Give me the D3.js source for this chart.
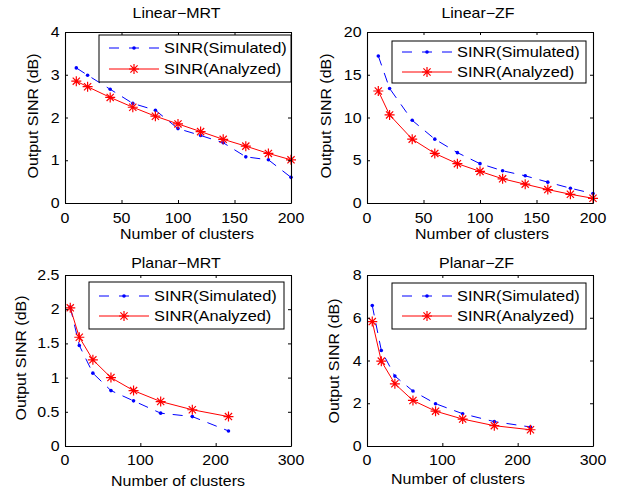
<!DOCTYPE html>
<html><head><meta charset="utf-8">
<script src="https://cdn.jsdelivr.net/npm/d3@7"></script>
<style>
html,body{margin:0;padding:0;background:#fff;}
svg{display:block;}
text{font-family:"Liberation Sans",Arial,Helvetica,sans-serif;font-size:14px;fill:#000;}
</style></head>
<body>
<svg id="chart" width="624" height="495"></svg>
<script>
// ---------- data ----------
const linearX = [10, 20, 40, 60, 80, 100, 120, 140, 160, 180, 200];
const planarX = [7, 19, 37, 61, 91, 127, 169, 217];

const linMrtSim = [3.16, 2.99, 2.66, 2.33, 2.17, 1.74, 1.58, 1.41, 1.08, 1.01, 0.60];
const linMrtAna = [2.85, 2.72, 2.47, 2.24, 2.03, 1.85, 1.67, 1.49, 1.33, 1.16, 1.01];
const linZfSim  = [17.2, 13.4, 9.67, 7.47, 5.89, 4.60, 3.77, 3.18, 2.44, 1.73, 1.10];
const linZfAna  = [13.1, 10.3, 7.47, 5.80, 4.60, 3.70, 2.83, 2.20, 1.57, 1.02, 0.55];
const plaMrtSim = [2.03, 1.47, 1.065, 0.81, 0.66, 0.48, 0.43, 0.22];
const plaMrtAna = [2.02, 1.59, 1.26, 1.00, 0.81, 0.65, 0.53, 0.43];
const plaZfSim  = [6.57, 4.47, 3.27, 2.57, 1.98, 1.51, 1.14, 0.89];
const plaZfAna  = [5.82, 3.97, 2.91, 2.13, 1.63, 1.26, 0.95, 0.76];

const titles = ["Linear\u2212MRT", "Linear\u2212ZF", "Planar\u2212MRT", "Planar\u2212ZF"];
const legendLabels = ["SINR(Simulated)", "SINR(Analyzed)"];
const xLabel = "Number of clusters";
const yLabel = "Output SINR (dB)";
const xTicksLinear = [0, 50, 100, 150, 200];
const xTicksPlanar = [0, 100, 200, 300];
const yTicksLinMrt = [0, 1, 2, 3, 4];
const yTicksLinZf  = [0, 5, 10, 15, 20];
const yTicksPlaMrt = [0, 0.5, 1, 1.5, 2, 2.5];
const yTicksPlaZf  = [0, 2, 4, 6, 8];

// ---------- panel definitions (data + layout) ----------
const panels = [
  {title: titles[0], x: linearX, sim: linMrtSim, ana: linMrtAna, xTicks: xTicksLinear, yTicks: yTicksLinMrt,
   box: {l: 65, r: 291, t: 32, b: 203}, titleX: 176.5, titleY: 18, xlabX: 187, xlabY: 239, tickY: 222.7, ylabX: 38, ylabY: 116,
   leg: {l: 99, r: 291, t: 35, b: 82, r1: 48, r2: 69}},
  {title: titles[1], x: linearX, sim: linZfSim, ana: linZfAna, xTicks: xTicksLinear, yTicks: yTicksLinZf,
   box: {l: 367, r: 593, t: 32, b: 203}, titleX: 478, titleY: 18, xlabX: 482, xlabY: 239, tickY: 222.7, ylabX: 331, ylabY: 116,
   leg: {l: 392, r: 586, t: 41, b: 83, r1: 52, r2: 72}},
  {title: titles[2], x: planarX, sim: plaMrtSim, ana: plaMrtAna, xTicks: xTicksPlanar, yTicks: yTicksPlaMrt,
   box: {l: 65, r: 291, t: 275, b: 446}, titleX: 176, titleY: 268, xlabX: 178, xlabY: 486, tickY: 464.5, ylabX: 26, ylabY: 358,
   leg: {l: 89, r: 284, t: 282, b: 329, r1: 296, r2: 316}},
  {title: titles[3], x: planarX, sim: plaZfSim, ana: plaZfAna, xTicks: xTicksPlanar, yTicks: yTicksPlaZf,
   box: {l: 367, r: 593, t: 275, b: 446}, titleX: 476.5, titleY: 268, xlabX: 458, xlabY: 484, tickY: 464.5, ylabX: 339, ylabY: 361,
   leg: {l: 392, r: 586, t: 283, b: 329, r1: 296, r2: 316}}
];

const SX = 1.14;      // horizontal text stretch of the reference
const SXL = 1.17;     // legend text stretch
const BLUE = "#0000ff", RED = "#ff0000";
const svg = d3.select("#chart");

function txt(g, x, y, s, anchor, rot, sx) {
  return g.append("text")
    .attr("transform", `translate(${x},${y})${rot ? ` rotate(${rot})` : ""} scale(${sx || SX},1)`)
    .attr("text-anchor", anchor)
    .text(s);
}

function star(g, cx, cy, r) {
  const d = r * 0.72;
  const p = `M${cx - r},${cy}L${cx + r},${cy}M${cx},${cy - r}L${cx},${cy + r}` +
            `M${cx - d},${cy - d}L${cx + d},${cy + d}M${cx - d},${cy + d}L${cx + d},${cy - d}`;
  g.append("path").attr("d", p).attr("stroke", RED).attr("stroke-width", 1.2).attr("fill", "none");
}

const fmt = v => String(v);

panels.forEach(p => {
  const g = svg.append("g");
  const B = p.box;
  const xDom = [p.xTicks[0], p.xTicks[p.xTicks.length - 1]];
  const yDom = [p.yTicks[0], p.yTicks[p.yTicks.length - 1]];
  const x = d3.scaleLinear().domain(xDom).range([B.l, B.r]);
  const y = d3.scaleLinear().domain(yDom).range([B.b, B.t]);

  g.append("rect").attr("x", B.l).attr("y", B.t).attr("width", B.r - B.l).attr("height", B.b - B.t).attr("fill", "#fff");

  const pts = (arr) => arr.map((v, i) => [x(p.x[i]), y(v)]);
  const line = d3.line();

  // simulated: blue dashed with dots
  g.append("path").attr("d", line(pts(p.sim))).attr("fill", "none")
    .attr("stroke", BLUE).attr("stroke-width", 1).attr("stroke-dasharray", "10,8");
  g.selectAll(null).data(pts(p.sim)).join("circle")
    .attr("cx", d => d[0]).attr("cy", d => d[1]).attr("r", 1.8).attr("fill", BLUE);

  // analyzed: red solid with asterisks
  g.append("path").attr("d", line(pts(p.ana))).attr("fill", "none")
    .attr("stroke", RED).attr("stroke-width", 1);
  pts(p.ana).forEach(d => star(g, d[0], d[1], 5));

  // axes (ticks inward, full box)
  const ax = g.append("g").attr("transform", `translate(0,${B.b})`)
    .call(d3.axisBottom(x).tickValues(p.xTicks).tickSizeInner(-3).tickSizeOuter(0).tickFormat(""));
  const axT = g.append("g").attr("transform", `translate(0,${B.t})`)
    .call(d3.axisTop(x).tickValues(p.xTicks).tickSizeInner(-3).tickSizeOuter(0).tickFormat(""));
  const ay = g.append("g").attr("transform", `translate(${B.l},0)`)
    .call(d3.axisLeft(y).tickValues(p.yTicks).tickSizeInner(-3).tickSizeOuter(0).tickFormat(""));
  const ayR = g.append("g").attr("transform", `translate(${B.r},0)`)
    .call(d3.axisRight(y).tickValues(p.yTicks).tickSizeInner(-3).tickSizeOuter(0).tickFormat(""));
  [ax, axT, ay, ayR].forEach(a => {
    a.selectAll("path.domain").attr("stroke", "#000").attr("stroke-width", 1.1);
    a.selectAll(".tick line").attr("stroke", "#000").attr("stroke-width", 1);
    a.selectAll(".tick text").remove();
  });
  // hide end ticks sitting on the box corners is not needed (they lie on the border)

  // tick labels
  p.xTicks.forEach(v => txt(g, x(v), p.tickY, fmt(v), "middle"));
  p.yTicks.forEach(v => txt(g, B.l - 5.5, y(v) + 5, fmt(v), "end"));

  // legend
  const L = p.leg;
  g.append("rect").attr("x", L.l).attr("y", L.t).attr("width", L.r - L.l).attr("height", L.b - L.t)
    .attr("fill", "#fff").attr("stroke", "#000").attr("stroke-width", 1);
  const lx0 = L.l + 10, lx1 = L.l + 60, lc = (lx0 + lx1) / 2;
  g.append("line").attr("x1", lx0).attr("x2", lx1).attr("y1", L.r1).attr("y2", L.r1)
    .attr("stroke", BLUE).attr("stroke-width", 1).attr("stroke-dasharray", "10,10");
  g.append("circle").attr("cx", lc).attr("cy", L.r1).attr("r", 1.8).attr("fill", BLUE);
  g.append("line").attr("x1", lx0).attr("x2", lx1).attr("y1", L.r2).attr("y2", L.r2)
    .attr("stroke", RED).attr("stroke-width", 1);
  star(g, lc, L.r2, 5);
  txt(g, L.l + 65, L.r1 + 5, legendLabels[0], "start", 0, SXL);
  txt(g, L.l + 65, L.r2 + 5, legendLabels[1], "start", 0, SXL);

  // title and labels
  txt(g, p.titleX, p.titleY, p.title, "middle");
  txt(g, p.xlabX, p.xlabY, xLabel, "middle");
  txt(g, p.ylabX, p.ylabY, yLabel, "middle", -90);
});
</script>
</body></html>
